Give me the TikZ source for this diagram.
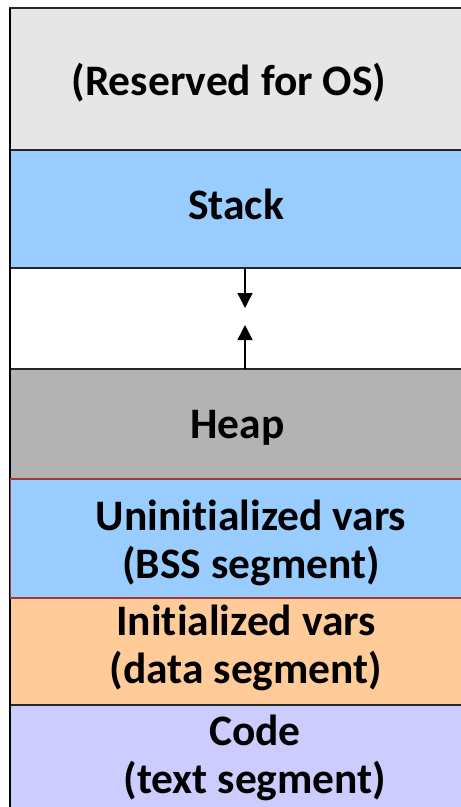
\documentclass[tikz,border=0pt]{standalone}
\usepackage{fontspec}
\setmainfont{Carlito}[Ligatures=NoCommon]
\usetikzlibrary{arrows.meta}
\definecolor{osgray}{HTML}{E6E6E6}
\definecolor{stackblue}{HTML}{99CCFF}
\definecolor{heapgray}{HTML}{B3B3B3}
\definecolor{dataorange}{HTML}{FFCC99}
\definecolor{codeviolet}{HTML}{CCCCFF}
\definecolor{bssborder}{HTML}{A33A3A}
\begin{document}
\begin{tikzpicture}[x=1pt,y=-1pt,
  segment/.style={draw=black!85, line width=1.6pt, rectangle, anchor=north west,
    minimum width=470pt, inner sep=0pt, outer sep=0pt},
  label/.style={font=\bfseries\fontsize{43.5}{48}\selectfont, align=center,
    anchor=base, inner sep=0pt},
  growth/.style={line width=1.3pt, -{Triangle[width=15pt,length=15pt]}}]
  \clip (0,0) rectangle (461,807);
  \fill[white] (0,0) rectangle (461,807);

  % memory segments, top of the address space first
  \node[segment, fill=osgray, minimum height=142pt] (os) at (10,8) {};
  \node[segment, fill=stackblue, minimum height=118pt] (stack) at (10,150) {};
  \node[segment, fill=white, minimum height=101pt] (gap) at (10,268) {};
  \node[segment, fill=heapgray, minimum height=110pt] (heap) at (10,369) {};
  \node[segment, fill=dataorange, minimum height=107pt] (data) at (10,598) {};
  \node[segment, fill=codeviolet, minimum height=120pt] (code) at (10,705) {};
  \draw[black, line width=2pt] (10,8) -- (10,807);
  % BSS drawn last so its red outline stays on top of its neighbours
  \node[segment, fill=stackblue, draw=bssborder, line width=1.3pt, minimum height=119pt] (bss) at (10.5,479) {};

  % segment names (base anchor sits on the last line)
  \node[label] (ostext) at (229,95) {(Reserved for OS)};
  \node[label] (stacktext) at (236,219) {Stack};
  \node[label] (heaptext) at (237.5,438) {Heap};
  \node[label] (bsstext) at (251,578) {Uninitialized vars\\(BSS segment)};
  \node[label] (datatext) at (246,683) {Initialized vars\\(data segment)};
  \node[label] (codetext) at (255,793) {Code\\(text segment)};

  % stack grows down, heap grows up
  \coordinate (stackend) at (245,308);
  \coordinate (heapend) at (245,325);
  \draw[growth] (stack.south -| stackend) -- (stackend);
  \draw[growth] (heap.north -| heapend) -- (heapend);
\end{tikzpicture}
\end{document}
